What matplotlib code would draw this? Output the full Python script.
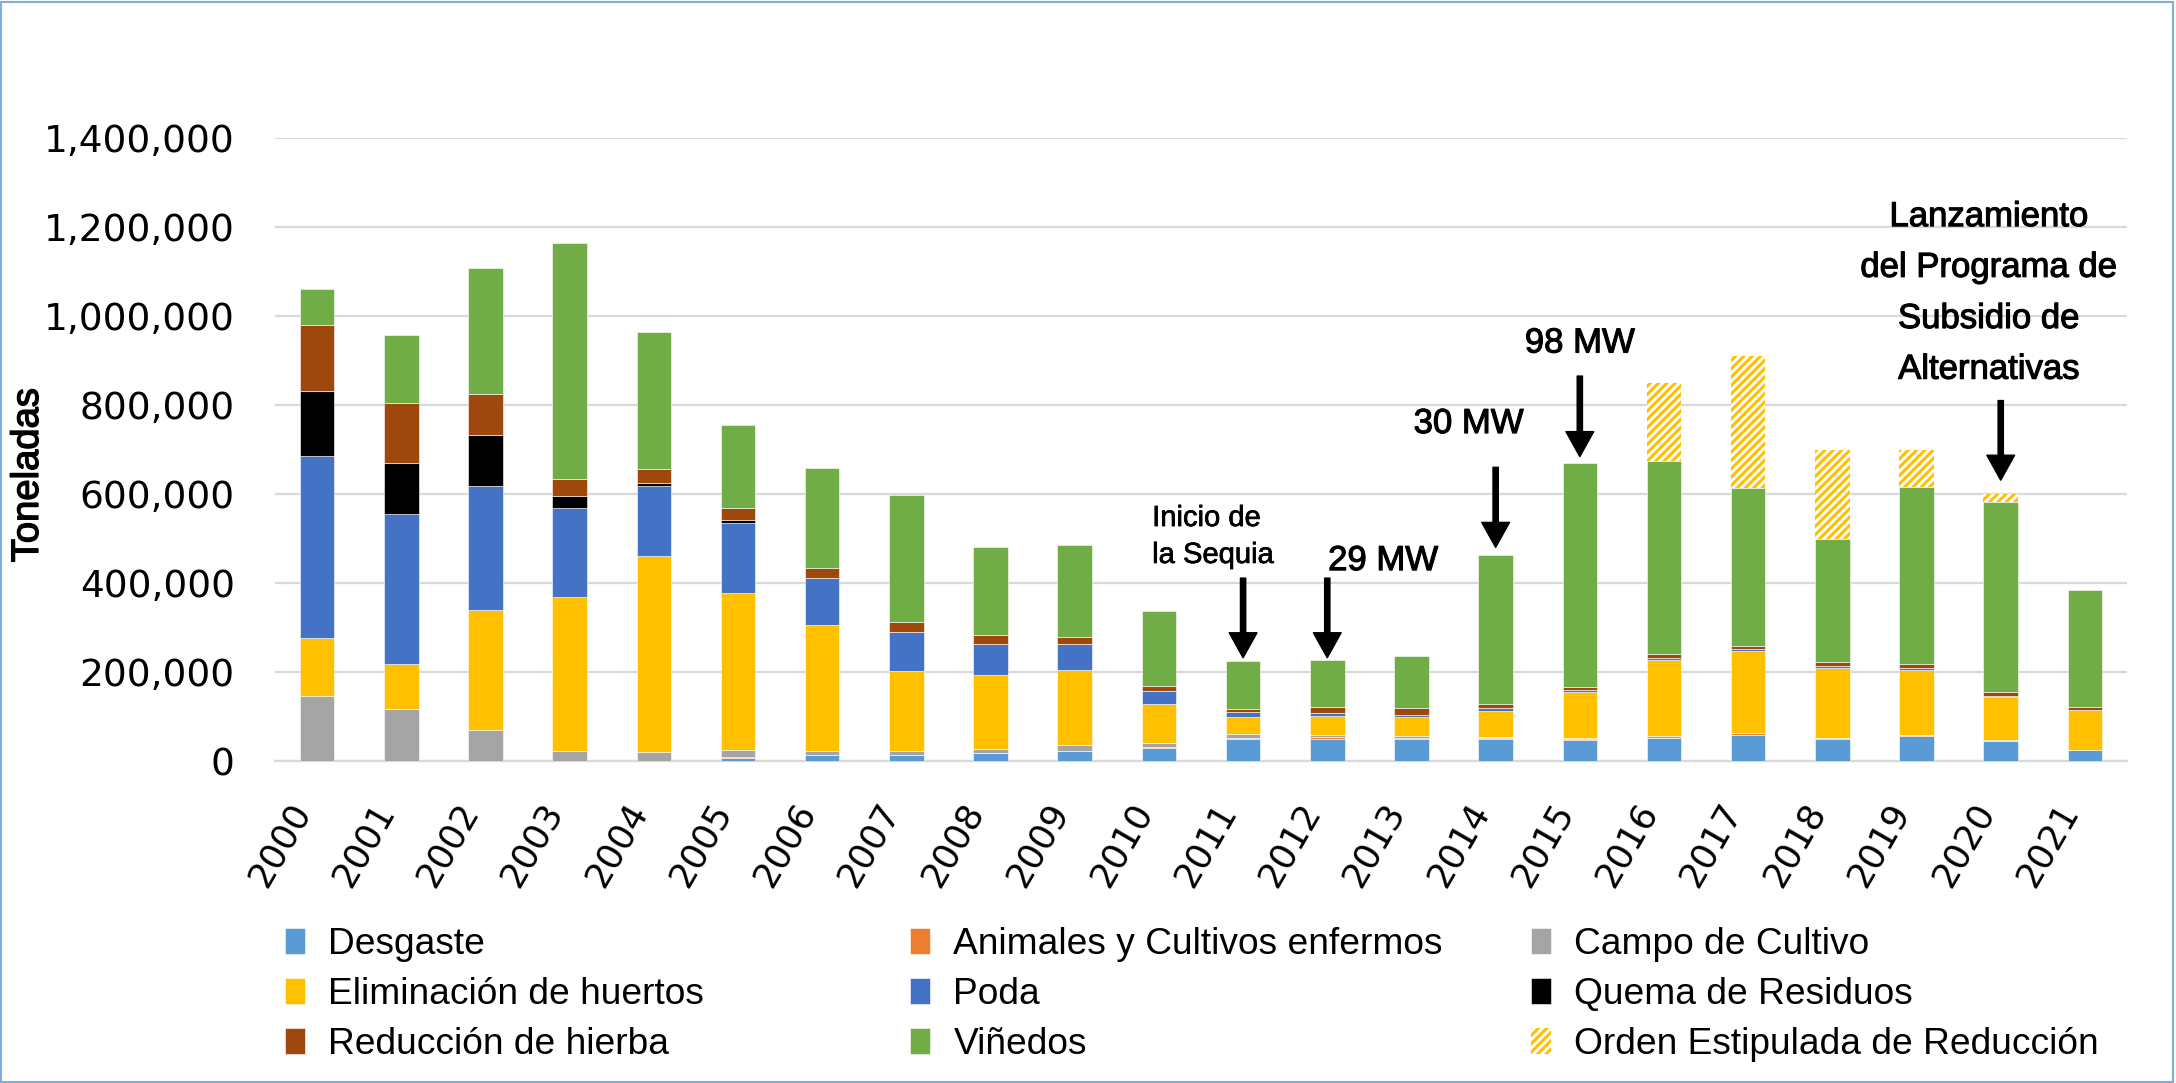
import matplotlib
matplotlib.use("Agg")
import matplotlib.pyplot as plt
import matplotlib.patheffects as pe
from matplotlib.patches import Rectangle
from matplotlib.ticker import FuncFormatter
import numpy as np

# ---------------- data (toneladas) ----------------
years = [str(y) for y in range(2000, 2022)]

desgaste     = [0, 0, 0, 0, 0, 6000, 13000, 13000, 18000, 22000, 29000, 50000, 49000, 50000,
                50000, 47000, 51000, 58000, 50000, 57000, 45000, 24000]
animales     = [0, 0, 0, 0, 0, 2000, 1000, 1000, 1000, 1000, 2000, 1000, 5000, 1000,
                1000, 3000, 1000, 4000, 1000, 1000, 1000, 500]
campo        = [145000, 117000, 70000, 22000, 21000, 17000, 8000, 9000, 8000, 12000, 10000, 9000,
                4000, 6000, 4000, 2000, 5000, 1000, 1000, 1000, 1000, 0]
eliminacion  = [131000, 102000, 270000, 346000, 440000, 353000, 283000, 180000, 167000, 170000,
                86000, 40000, 43000, 43000, 57000, 103000, 171000, 184000, 157000, 145000, 97000, 90000]
poda         = [409000, 335000, 278000, 200000, 156000, 156000, 106000, 88000, 70000, 58000,
                31000, 9000, 7000, 4000, 6000, 4000, 4000, 4000, 4000, 4000, 3000, 1000]
quema        = [146000, 116000, 115000, 28000, 8000, 8000, 0, 0, 0, 0, 0, 0, 0, 0, 0, 0, 0, 0,
                0, 0, 0, 0]
reduccion    = [149000, 134000, 92000, 38000, 31000, 27000, 23000, 21000, 19000, 15000, 10000,
                8000, 13000, 15000, 10000, 7000, 8000, 7000, 9000, 10000, 7000, 5000]
vinedos      = [81000, 153000, 282000, 530000, 307000, 185000, 224000, 286000, 199000, 208000,
                168000, 107000, 105000, 118000, 335000, 503000, 435000, 356000, 277000, 397000,
                427000, 263000]
orden        = [0, 0, 0, 0, 0, 0, 0, 0, 0, 0, 0, 0, 0, 0, 0, 0, 175000, 296000, 200000, 84000,
                19000, 0]

series_names = ["Desgaste", "Animales y Cultivos enfermos", "Campo de Cultivo",
                "Eliminación de huertos", "Poda", "Quema de Residuos",
                "Reducción de hierba", "Viñedos", "Orden Estipulada de Reducción"]
series_vals = [desgaste, animales, campo, eliminacion, poda, quema, reduccion, vinedos, orden]
colors = ["#5B9BD5", "#ED7D31", "#A5A5A5", "#FFC000", "#4472C4", "#000000",
          "#9E480E", "#70AD47", "#FFC000"]

y_ticks = [0, 200000, 400000, 600000, 800000, 1000000, 1200000, 1400000]

# annotations
arrow_idx  = [11, 12, 14, 15, 20]
arrow_top  = [411000, 411000, 660000, 865000, 810000]
arrow_tip  = [232000, 232000, 480000, 684000, 631000]

# ---------------- figure ----------------
W, H = 2176, 1083
fig = plt.figure(figsize=(W / 100, H / 100), dpi=100)
ax = fig.add_axes([275 / W, 1 - 761 / H, (2127 - 275) / W, (761 - 138) / H])

x = np.arange(len(years))
bottom = np.zeros(len(years))
containers = []
plt.rcParams['hatch.linewidth'] = 2.2
for name, vals, col in zip(series_names, series_vals, colors):
    vals = np.array(vals, dtype=float)
    if name.startswith("Orden"):
        c = ax.bar(x, vals, 0.41, bottom=bottom, facecolor="white", edgecolor=col,
                   hatch="////", linewidth=0, label=name, zorder=3)
    else:
        c = ax.bar(x, vals, 0.41, bottom=bottom, color=col, edgecolor="white",
                   linewidth=0.4, label=name, zorder=3)
    containers.append(c)
    bottom += vals

ax.set_xlim(-0.5, len(years) - 0.5)
ax.set_ylim(0, 1400000)
ax.set_yticks(y_ticks)
ax.yaxis.set_major_formatter(FuncFormatter(lambda v, p: f"{v:,.0f}"))
ax.set_xticks(x)
ax.set_xticklabels(years, rotation=60, ha="right", va="top")

for lab in ax.get_yticklabels() + ax.get_xticklabels():
    lab.set_fontfamily("DejaVu Sans")
for lab in ax.get_yticklabels():
    lab.set_fontsize(27)
for lab in ax.get_xticklabels():
    lab.set_fontsize(25.5)

ax.tick_params(axis="y", length=0, pad=29)
ax.tick_params(axis="x", length=0, pad=26)
ax.yaxis.grid(True, color="#D9D9D9", linewidth=1.6)
ax.set_axisbelow(True)
for s in ["top", "right", "left"]:
    ax.spines[s].set_visible(False)
ax.spines["bottom"].set_color("#D9D9D9")
ax.spines["bottom"].set_linewidth(1.6)

thick = [pe.withStroke(linewidth=0.8, foreground="black")]

ax.set_ylabel("Toneladas", fontsize=27.5, family=["Liberation Sans Narrow", "Liberation Sans"])
ax.yaxis.set_label_coords(-0.1334, 0.459)
ax.yaxis.label.set_va("center")
ax.yaxis.label.set_path_effects([pe.withStroke(linewidth=1.0, foreground="black")])

# arrows
for i, t, b in zip(arrow_idx, arrow_top, arrow_tip):
    ax.annotate("", xy=(i, b), xytext=(i, t),
                arrowprops=dict(facecolor="black", edgecolor="black", width=3.8,
                                headwidth=20, headlength=18, shrink=0), zorder=5)

tf = dict(family=["Liberation Sans", "DejaVu Sans"], color="black", clip_on=False)
thin = [pe.withStroke(linewidth=0.5, foreground="black")]
ax.text(9.92, 528000, "Inicio de", fontsize=21, ha="left", va="baseline", path_effects=thin, **tf)
ax.text(9.92, 445000, "la Sequia", fontsize=21, ha="left", va="baseline", path_effects=thin, **tf)
ax.text(12.01, 429000, "29 MW", fontsize=25, ha="left", va="baseline", path_effects=thick, **tf)
ax.text(13.68, 737000, "30 MW", fontsize=25, ha="center", va="baseline", path_effects=thick, **tf)
ax.text(15.0, 918000, "98 MW", fontsize=25, ha="center", va="baseline", path_effects=thick, **tf)
for s, yv in zip(["Lanzamiento", "del Programa de", "Subsidio de", "Alternativas"],
                 [1202000, 1088000, 973000, 859000]):
    ax.text(19.86, yv, s, fontsize=25, ha="center", va="baseline", path_effects=thick, **tf)

# legend in three columns (Excel-like equal columns)
cols = [[0, 3, 6], [1, 4, 7], [2, 5, 8]]
col_x = [285 / W, 910 / W, 1531 / W]
for idxs, cx in zip(cols, col_x):
    fig.legend(handles=[containers[k] for k in idxs],
               labels=[series_names[k] for k in idxs],
               loc="upper left", bbox_to_anchor=(cx, 1 - 927 / H),
               frameon=False, borderpad=0, borderaxespad=0,
               handlelength=0.55, handleheight=0.7, handletextpad=0.62,
               labelspacing=0.4,
               prop=dict(family="Liberation Sans", size=26.7))

# chart border
fig.add_artist(Rectangle((0.0005, 0.001), 0.998, 0.997, transform=fig.transFigure,
                         fill=False, edgecolor="#7EAEDD", linewidth=1.5))

fig.savefig("out.png", dpi=100)
